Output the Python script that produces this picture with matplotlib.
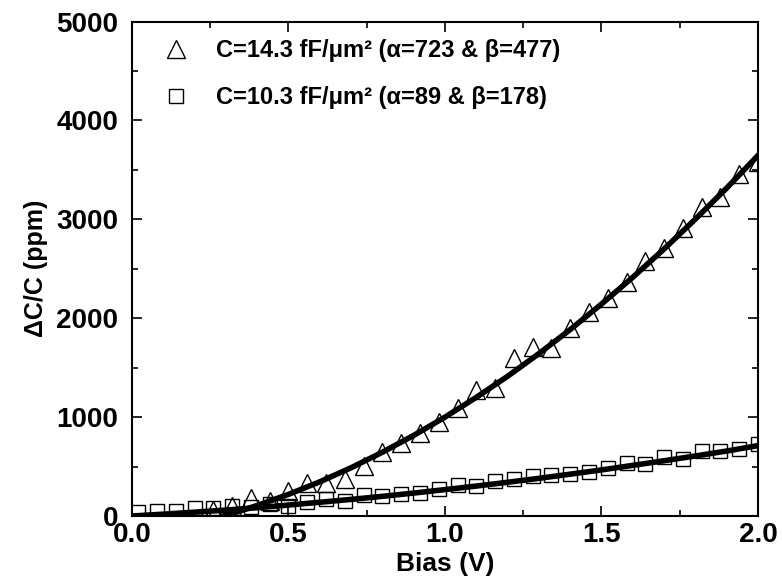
import numpy as np
import matplotlib.pyplot as plt

plt.rcParams['font.family'] = ['Liberation Sans', 'DejaVu Sans']
plt.rcParams['font.weight'] = 'bold'

# measured points (bias in V, dC/C in ppm)
v_sq = [0.02, 0.08, 0.14, 0.20, 0.26, 0.32, 0.38, 0.44, 0.50, 0.56, 0.62, 0.68,
        0.74, 0.80, 0.86, 0.92, 0.98, 1.04, 1.10, 1.16, 1.22, 1.28, 1.34, 1.40,
        1.46, 1.52, 1.58, 1.64, 1.70, 1.76, 1.82, 1.88, 1.94, 2.00]
c_sq = [43, 51, 51, 86, 78, 101, 94, 121, 101, 145, 169, 155,
        212, 202, 219, 230, 270, 313, 303, 357, 377, 404, 412, 425,
        448, 482, 533, 526, 600, 579, 660, 660, 674, 725]

v_tri = [0.26, 0.32, 0.38, 0.44, 0.50, 0.56, 0.62, 0.68, 0.74, 0.80, 0.86, 0.92,
         0.98, 1.04, 1.10, 1.16, 1.22, 1.28, 1.34, 1.40, 1.46, 1.52, 1.58, 1.64,
         1.70, 1.76, 1.82, 1.88, 1.94, 2.00]
c_tri = [60, 100, 180, 150, 250, 332, 337, 372, 508, 650, 741, 836,
         948, 1089, 1274, 1291, 1594, 1706, 1696, 1898, 2066, 2201, 2369, 2578,
         2707, 2909, 3121, 3229, 3455, 3580]

# fitted curves
v_fit_sq = [0.0, 0.1, 0.2, 0.3, 0.4, 0.5, 0.6, 0.7, 0.8, 0.9, 1.0,
            1.1, 1.2, 1.3, 1.4, 1.5, 1.6, 1.7, 1.8, 1.9, 2.0]
c_fit_sq = [0, 19, 39, 60, 84, 111, 139, 168, 199, 232, 267,
            303, 341, 381, 423, 466, 512, 559, 607, 657, 712]

v_fit_tri = [0.29, 0.35, 0.4, 0.45, 0.5, 0.6, 0.7, 0.8, 0.9, 1.0, 1.1, 1.2,
             1.3, 1.4, 1.5, 1.6, 1.7, 1.8, 1.9, 2.0]
c_fit_tri = [0, 55, 107, 162, 219, 346, 488, 645, 815, 1000, 1200, 1413,
             1642, 1885, 2143, 2414, 2700, 3002, 3316, 3646]

lab_tri = 'C=14.3 fF/\u03bcm\u00b2 (\u03b1=723 & \u03b2=477)'
lab_sq = 'C=10.3 fF/\u03bcm\u00b2 (\u03b1=89 & \u03b2=178)'

fig = plt.figure(figsize=(7.82, 5.83), dpi=100)
ax = fig.add_axes([0.1688, 0.1149, 0.8005, 0.8482])

ax.plot(v_tri, c_tri, ls='none', marker='^', ms=13, mfc='none', mec='k', mew=1.0,
        label=lab_tri)
ax.plot(v_sq, c_sq, ls='none', marker='s', ms=10, mfc='none', mec='k', mew=1.0,
        label=lab_sq)
ax.plot(v_fit_tri, c_fit_tri, 'k-', lw=4)
ax.plot(v_fit_sq, c_fit_sq, 'k-', lw=4)

ax.set_xlim(0, 2)
ax.set_ylim(0, 5000)
ax.set_xticks([0, 0.5, 1.0, 1.5, 2.0])
ax.set_xticks([0.25, 0.75, 1.25, 1.75], minor=True)
ax.set_yticks([0, 1000, 2000, 3000, 4000, 5000])
ax.set_yticks([500, 1500, 2500, 3500, 4500], minor=True)
ax.xaxis.set_major_formatter(plt.FormatStrFormatter('%.1f'))
ax.tick_params(which='both', direction='in', top=True, right=True, width=1.2)
ax.tick_params(which='major', length=7, labelsize=20)
ax.tick_params(which='minor', length=4)
ax.tick_params(axis='x', pad=4)
ax.tick_params(axis='y', pad=10)
for sp in ax.spines.values():
    sp.set_linewidth(1.5)

ax.set_xlabel('Bias (V)', fontsize=19, fontweight='bold', labelpad=3)
ax.set_ylabel('\u0394C/C (ppm)', fontsize=18, fontweight='bold', labelpad=6)

ax.legend(loc='upper left', frameon=False, fontsize=17, handletextpad=0.7,
          borderaxespad=0.35, labelspacing=1.0, bbox_to_anchor=(0.004, 1.0))

plt.savefig('out.png', dpi=100)
